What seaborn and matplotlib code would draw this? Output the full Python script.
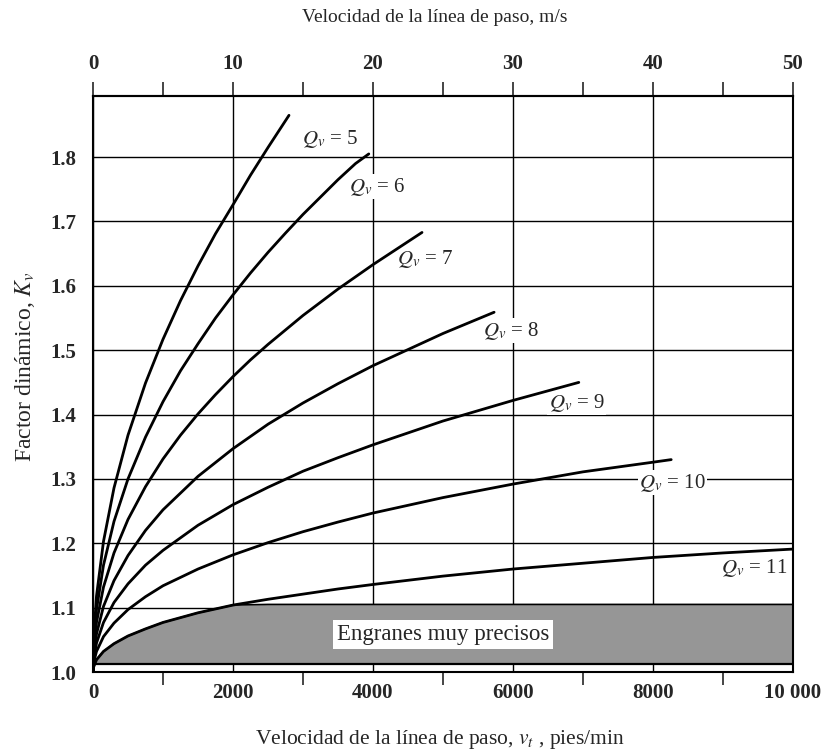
import numpy as np
import pandas as pd
import matplotlib
matplotlib.use('Agg')
import matplotlib.pyplot as plt
import seaborn as sns

# curves: pitch line speed (ft/min) -> dynamic factor Kv
vt_q5 = [0, 10, 50, 150, 300, 500, 750, 1000, 1250, 1500, 1750, 2000, 2250, 2500, 2800]
kv_q5 = [1.0, 1.053, 1.118, 1.203, 1.286, 1.368, 1.449, 1.517, 1.577, 1.631, 1.681, 1.726, 1.772, 1.815, 1.865]

vt_q6 = [0, 10, 50, 150, 300, 500, 750, 1000, 1250, 1500, 1750, 2000, 2250, 2500, 2750, 3000, 3250, 3500,
         3750, 3940]
kv_q6 = [1.0, 1.044, 1.097, 1.166, 1.234, 1.300, 1.365, 1.420, 1.468, 1.510, 1.550, 1.586, 1.620, 1.652,
         1.682, 1.711, 1.738, 1.765, 1.790, 1.805]

vt_q7 = [0, 10, 50, 150, 300, 500, 750, 1000, 1250, 1500, 1750, 2000, 2250, 2500, 3000, 3500, 4000, 4700]
kv_q7 = [1.0, 1.035, 1.077, 1.132, 1.185, 1.237, 1.288, 1.331, 1.368, 1.401, 1.431, 1.459, 1.485, 1.509,
         1.554, 1.595, 1.633, 1.683]

vt_q8 = [0, 10, 50, 150, 300, 500, 750, 1000, 1500, 2000, 2500, 3000, 3500, 4000, 5000, 5730]
kv_q8 = [1.0, 1.027, 1.059, 1.102, 1.142, 1.181, 1.220, 1.252, 1.304, 1.347, 1.385, 1.418, 1.448, 1.476, 1.526, 1.559]

vt_q9 = [0, 10, 50, 150, 300, 500, 750, 1000, 1500, 2000, 2500, 3000, 3500, 4000, 5000, 6000, 6940]
kv_q9 = [1.0, 1.020, 1.045, 1.077, 1.108, 1.137, 1.166, 1.189, 1.228, 1.260, 1.287, 1.312, 1.333, 1.353, 1.390, 1.422, 1.450]

vt_q10 = [0, 10, 50, 150, 300, 500, 750, 1000, 1500, 2000, 2500, 3000, 3500, 4000, 5000, 6000, 7000, 8000, 8260]
kv_q10 = [1.0, 1.015, 1.032, 1.055, 1.076, 1.097, 1.117, 1.134, 1.160, 1.182, 1.201, 1.218, 1.233, 1.247, 1.271,
          1.292, 1.311, 1.326, 1.330]

vt_q11 = [0, 10, 50, 150, 300, 500, 750, 1000, 1500, 2000, 2500, 3000, 3500, 4000, 5000, 6000, 7000, 8000, 9000, 10000]
kv_q11 = [1.0, 1.008, 1.019, 1.032, 1.044, 1.056, 1.067, 1.077, 1.092, 1.104, 1.113, 1.121, 1.129, 1.136, 1.149,
          1.160, 1.169, 1.178, 1.185, 1.191]

qv_values = [5, 6, 7, 8, 9, 10, 11]
band_low = 1.013
band_high = 1.105
band_text = 'Engranes muy precisos'

xticks_fpm = [0, 2000, 4000, 6000, 8000, 10000]
xtick_labels = ['0', '2000', '4000', '6000', '8000', '10 000']
top_ticks = [0, 10, 20, 30, 40, 50]
yticks = [1.0, 1.1, 1.2, 1.3, 1.4, 1.5, 1.6, 1.7, 1.8]

curves = [(vt_q5, kv_q5), (vt_q6, kv_q6), (vt_q7, kv_q7), (vt_q8, kv_q8),
          (vt_q9, kv_q9), (vt_q10, kv_q10), (vt_q11, kv_q11)]
df = pd.concat([pd.DataFrame({'vt': v, 'Kv': k, 'Qv': q}) for (v, k), q in zip(curves, qv_values)],
               ignore_index=True)

sns.set_style('white')
plt.rcParams['font.family'] = ['Liberation Serif', 'DejaVu Serif']
plt.rcParams['mathtext.fontset'] = 'stix'

fig = plt.figure(figsize=(8.26, 7.53), dpi=100)
ax = fig.add_axes([93 / 826, 1 - 672 / 753, 700 / 826, 576 / 753])

# shaded band of very precise gears
x11 = np.array(vt_q11, float)
top = np.minimum(np.array(kv_q11), band_high)
ax.fill_between(x11, band_low, top, where=top >= band_low, color='#969696', lw=0, zorder=1)
ax.plot(x11, top, color='black', lw=1.2, zorder=2)
ax.axhline(band_low, color='black', lw=1.6, zorder=2)

sns.lineplot(data=df, x='vt', y='Kv', units='Qv', estimator=None, sort=False,
             color='black', lw=2.0, legend=False, ax=ax, zorder=3)

ax.set_xlim(0, 10000)
ax.set_ylim(1.0, 1.895)
ax.set_xticks(xticks_fpm)
ax.set_xticklabels(xtick_labels, fontsize=15, fontweight='bold')
ax.set_xticks([1000, 3000, 5000, 7000, 9000], minor=True)
ax.set_yticks(yticks)
ax.set_yticklabels([f'{t:.1f}' for t in yticks], fontsize=15, fontweight='bold')
ax.tick_params(axis='x', which='major', length=0, pad=8)
ax.tick_params(axis='x', which='minor', length=9.5, width=1.2, direction='out', bottom=True)
ax.tick_params(axis='y', length=0, pad=12)
ax.grid(True, which='major', color='black', lw=1.0)
ax.set_axisbelow(True)
for s in ax.spines.values():
    s.set_color('black')
    s.set_linewidth(1.5)

ax.set_xlabel('Velocidad de la línea de paso, $v_t$ , pies/min', fontsize=15.5)
ax.xaxis.set_label_coords(0.496, -0.098)
ax.set_ylabel('Factor dinámico, $K_v$', fontsize=17)
ax.yaxis.set_label_coords(-0.08, 0.531)

sec = ax.secondary_xaxis('top', functions=(lambda x: x / 200, lambda x: x * 200))
sec.set_xticks(top_ticks)
sec.set_xticklabels([str(t) for t in top_ticks], fontsize=15, fontweight='bold')
sec.set_xticks([5, 15, 25, 35, 45], minor=True)
sec.tick_params(which='both', length=10, width=1.2, direction='out', pad=6)
sec.spines['top'].set_linewidth(1.5)
fig.text(435 / 826, 1 - 18 / 753, 'Velocidad de la línea de paso, m/s', fontsize=14,
         ha='center', va='center')

# curve labels (white box hides the grid, curves stay on top)
label_pos = [(2990, 1.828), (3660, 1.754), (4350, 1.641), (5570, 1.530),
             (6510, 1.418), (7800, 1.294), (8970, 1.162)]
for q, (lx, ly) in zip(qv_values, label_pos):
    ax.text(lx, ly, f'$Q_v$ = {q}', fontsize=15, ha='left', va='center', zorder=2.5,
            bbox=dict(facecolor='white', edgecolor='none', pad=1.0))

ax.text(5000, 1.058, band_text, fontsize=16.5, ha='center', va='center', zorder=4,
        bbox=dict(facecolor='white', edgecolor='none', pad=3))

fig.savefig('out.png', dpi=100)
